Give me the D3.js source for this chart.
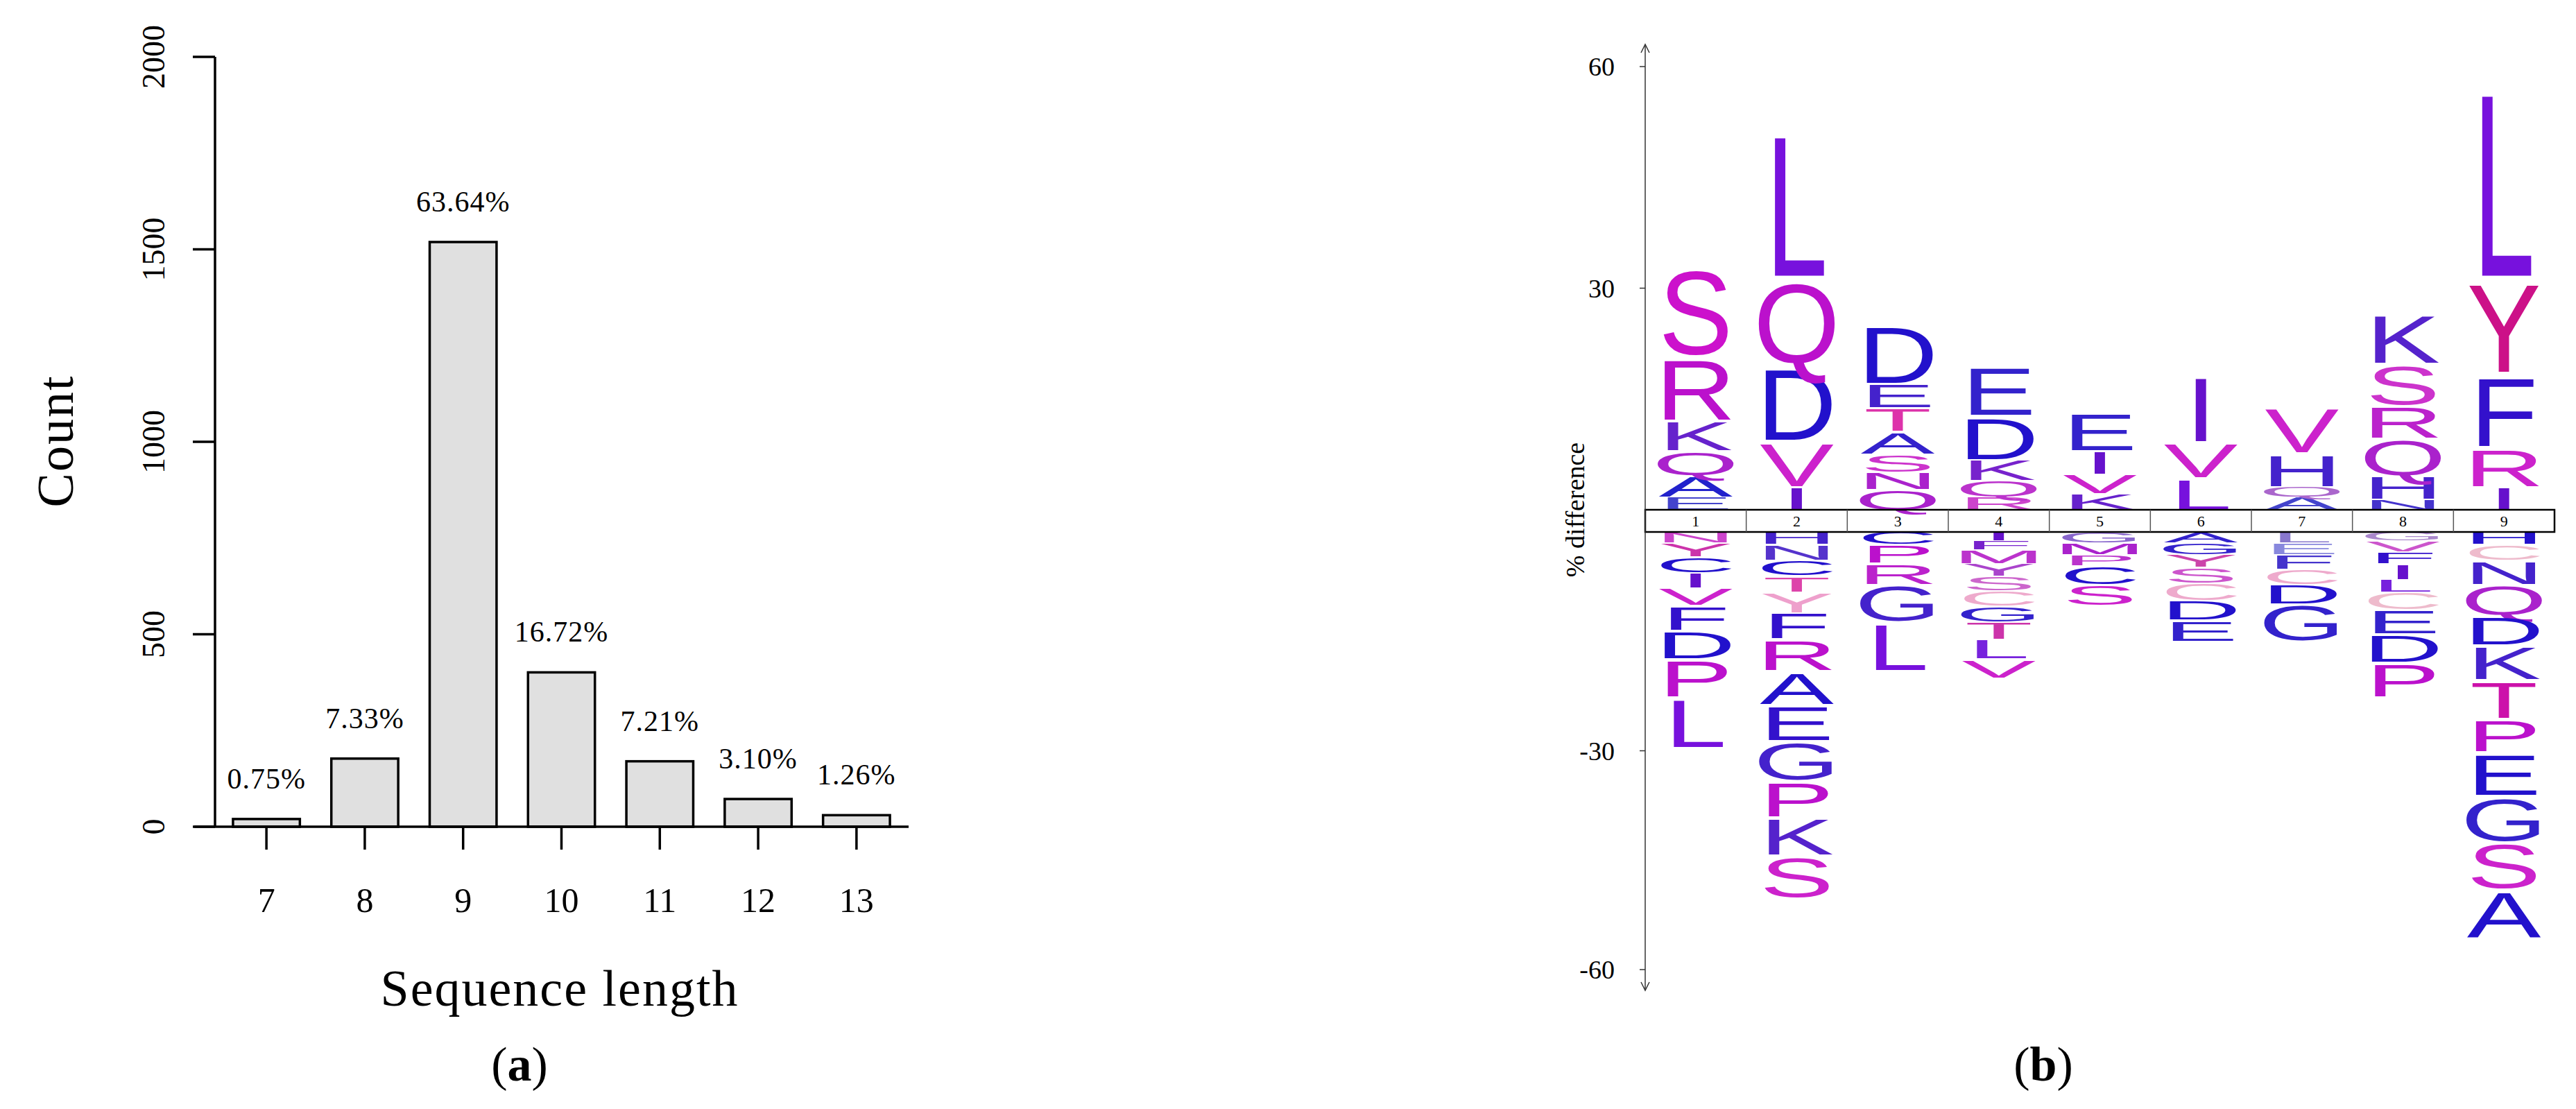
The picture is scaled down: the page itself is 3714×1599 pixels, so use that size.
<!DOCTYPE html>
<html><head><meta charset="utf-8">
<script src="https://cdn.jsdelivr.net/npm/d3@7"></script>
<style>body{margin:0;background:#fff}svg{display:block}</style>
</head><body>
<script>
// ---- Panel (a) data
const lengths = ["7","8","9","10","11","12","13"];
const counts = [20,177,1519,401,170,72,30];
const pctLabels = ["0.75%","7.33%","63.64%","16.72%","7.21%","3.10%","1.26%"];
const countTicks = [0,500,1000,1500,2000];

// ---- Panel (b) data: letters (top to bottom above 0, top to bottom below 0) and % heights
const positions = ["1","2","3","4","5","6","7","8","9"];
const posLetters = [
 ["S","R","K","Q","A","E"],["L","Q","D","V","I"],["D","E","T","A","S","N","Q"],["E","D","K","Q","R"],
 ["E","I","V","K"],["I","V","L"],["V","H","Q","A"],["K","S","R","Q","H","N"],["L","Y","F","R","I"]];
const posHeights = [
 [12.3,8.9,4.1,3.4,2.9,1.8],[20.8,11.7,10.5,6.3,3.2],[8.3,3.3,3.2,3.1,2.4,2.4,2.8],[7.0,6.0,2.9,2.2,1.8],
 [5.3,3.2,2.6,2.3],[9.4,4.9,4.4],[6.5,4.6,1.4,1.8],[7.0,5.6,4.5,5.1,3.2,1.5],[27.1,13.0,10.1,5.4,3.2]];
const negLetters = [
 ["N","Y","C","I","V","F","D","P","L"],["H","N","C","T","Y","F","R","A","E","G","P","K","S"],
 ["C","P","R","G","L"],["I","F","M","Y","S","C","G","T","L","V"],["G","M","P","C","S"],
 ["A","G","Y","S","C","D","E"],["L","E","F","C","D","G"],["G","V","F","I","L","C","E","D","P"],
 ["H","C","N","Q","D","K","T","P","E","G","S","A"]];
const negHeights = [
 [1.45,1.95,2.2,2.1,2.4,3.4,3.9,5.3,7.0],[1.7,2.2,2.1,2.2,2.9,3.6,4.4,4.6,5.0,5.4,5.0,5.3,5.8],
 [1.7,2.6,2.9,5.1,6.8],[1.2,1.2,1.9,1.7,2.0,2.1,2.2,2.4,2.7,2.6],[1.45,1.65,1.5,2.6,2.9],
 [1.45,1.65,1.7,2.2,2.4,2.7,2.9],[1.45,1.65,2.0,2.1,2.7,5.1],[1.2,1.5,1.6,2.2,1.7,2.4,3.4,3.9,4.8],
 [1.7,2.2,3.3,4.2,4.1,4.8,5.3,4.6,6.0,6.3,6.5,6.8]];
const diffTicks = [60,30,-30,-60];

// ---- colours (styles kept separate)
const posColors = [
 ["#cc11cc","#bb11cc","#6622cc","#aa22cc","#2222cc","#4444cc"],["#7711dd","#bb11cc","#2211cc","#cc22cc","#6611cc"],
 ["#2211cc","#4422cc","#dd33aa","#3322cc","#cc33cc","#aa22cc","#aa22cc"],["#3322cc","#2211cc","#7722cc","#bb33cc","#cc44cc"],
 ["#3322cc","#6611cc","#cc22cc","#6622cc"],["#6611cc","#cc22cc","#7711dd"],["#cc22cc","#4422cc","#aa66cc","#4444cc"],
 ["#5522cc","#cc33cc","#bb22cc","#aa22cc","#4422cc","#4433cc"],["#7711dd","#cc1188","#3311cc","#cc22cc","#6611cc"]];
const negColors = [
 ["#cc44cc","#cc33aa","#2211cc","#6611cc","#cc22cc","#3311cc","#2211cc","#bb11cc","#7711dd"],
 ["#4422cc","#5533cc","#2211cc","#dd44aa","#eea0cc","#3311cc","#bb11cc","#2211cc","#3311cc","#4422cc","#bb11cc","#5522cc","#cc22cc"],
 ["#2211cc","#bb11cc","#bb22cc","#4422cc","#7711dd"],
 ["#6611cc","#7722cc","#bb33cc","#aa44cc","#cc66cc","#eeaacc","#3322cc","#cc33aa","#7722dd","#cc22cc"],
 ["#8866cc","#aa22cc","#bb33cc","#2211cc","#cc22cc"],
 ["#3322cc","#3322cc","#cc44aa","#cc55cc","#eeaacc","#2211cc","#3322cc"],
 ["#8877cc","#8888dd","#4433cc","#eeaacc","#2211cc","#3322cc"],
 ["#aa88cc","#cc55cc","#3311cc","#6611cc","#7722dd","#eebbcc","#3322cc","#2211cc","#bb11cc"],
 ["#2211cc","#eebbcc","#4422cc","#aa22cc","#2211cc","#4422cc","#cc11aa","#bb11cc","#2211cc","#3322cc","#cc22cc","#2211cc"]];

const W=3714,H=1599;
const svg=d3.select("body").append("svg").attr("width",W).attr("height",H);
const serif="'Liberation Serif','DejaVu Serif',serif";

// ================= Panel (a)
const xA=d3.scaleBand().domain(lengths).range([326,1293]).paddingInner(0.32).paddingOuter(0.07);
const yA=d3.scaleLinear().domain([0,2000]).range([1192,82]);
const gA=svg.append("g");
gA.selectAll("rect").data(counts).join("rect")
 .attr("x",(d,i)=>xA(lengths[i])).attr("width",xA.bandwidth())
 .attr("y",d=>yA(d)).attr("height",d=>yA(0)-yA(d))
 .attr("fill","#e0e0e0").attr("stroke","#000").attr("stroke-width",3.5);
gA.selectAll("text.pct").data(counts).join("text").attr("class","pct")
 .attr("x",(d,i)=>xA(lengths[i])+xA.bandwidth()/2).attr("y",d=>yA(d)-44)
 .attr("text-anchor","middle").attr("font-family",serif).attr("font-size",42).attr("letter-spacing",1)
 .text((d,i)=>pctLabels[i]);
gA.append("line").attr("x1",280).attr("x2",1310).attr("y1",yA(0)).attr("y2",yA(0)).attr("stroke","#000").attr("stroke-width",3.5);
gA.selectAll("line.xt").data(lengths).join("line").attr("class","xt")
 .attr("x1",d=>xA(d)+xA.bandwidth()/2).attr("x2",d=>xA(d)+xA.bandwidth()/2)
 .attr("y1",yA(0)).attr("y2",1225).attr("stroke","#000").attr("stroke-width",3.5);
gA.selectAll("text.xl").data(lengths).join("text").attr("class","xl")
 .attr("x",d=>xA(d)+xA.bandwidth()/2).attr("y",1315).attr("text-anchor","middle")
 .attr("font-family",serif).attr("font-size",50).text(d=>d);
gA.append("line").attr("x1",310).attr("x2",310).attr("y1",yA(0)).attr("y2",yA(2000)).attr("stroke","#000").attr("stroke-width",3.5);
gA.selectAll("line.yt").data(countTicks).join("line").attr("class","yt")
 .attr("x1",278).attr("x2",310).attr("y1",d=>yA(d)).attr("y2",d=>yA(d)).attr("stroke","#000").attr("stroke-width",3.5);
gA.selectAll("text.yl").data(countTicks).join("text").attr("class","yl")
 .attr("transform",d=>`translate(237,${yA(d)}) rotate(-90)`).attr("text-anchor","middle")
 .attr("font-family",serif).attr("font-size",46).text(d=>d);
gA.append("text").attr("transform","translate(105,636) rotate(-90)").attr("text-anchor","middle")
 .attr("font-family",serif).attr("font-size",74).attr("letter-spacing",2).text("Count");
gA.append("text").attr("x",807).attr("y",1450).attr("text-anchor","middle")
 .attr("font-family",serif).attr("font-size",74).attr("letter-spacing",2).text("Sequence length");
const ta=gA.append("text").attr("x",749).attr("y",1558).attr("text-anchor","middle").attr("font-family",serif).attr("font-size",70);
ta.append("tspan").text("(");ta.append("tspan").attr("font-weight","bold").text("a");ta.append("tspan").text(")");

// ================= Panel (b)
const xB=d3.scaleBand().domain(positions).range([2372,3683]);
const yPos=d3.scaleLinear().domain([0,60]).range([735,96]);
const yNeg=d3.scaleLinear().domain([0,-60]).range([767,1398]);
const gB=svg.append("g");
const sans="'Liberation Sans',Arial,sans-serif";
const FS=160, CAP=0.716*FS;
function letter(ch,col,bottom,hPx,color){
  const cx=xB(col)+xB.bandwidth()/2;
  const gh=hPx*0.93;
  gB.append("text").attr("transform",`translate(${cx},${bottom}) scale(1,${gh/CAP})`)
   .attr("text-anchor","middle").attr("font-family",sans).attr("font-size",FS)
   .attr("fill",color).text(ch);
}
positions.forEach((p,i)=>{
  let acc=0;
  for(let k=posLetters[i].length-1;k>=0;k--){
    const h=posHeights[i][k];
    letter(posLetters[i][k],p,yPos(acc),yPos(acc)-yPos(acc+h),posColors[i][k]);
    acc+=h;
  }
  acc=0;
  negLetters[i].forEach((ch,k)=>{
    const h=negHeights[i][k];
    const top=yNeg(-acc), bot=yNeg(-(acc+h));
    letter(ch,p,bot-(bot-top)*0.03,bot-top,negColors[i][k]);
    acc+=h;
  });
});
gB.append("rect").attr("x",2372).attr("y",735).attr("width",3683-2372).attr("height",32)
 .attr("fill","none").attr("stroke","#000").attr("stroke-width",2.5);
gB.selectAll("line.div").data(positions.slice(1)).join("line").attr("class","div")
 .attr("x1",d=>xB(d)).attr("x2",d=>xB(d)).attr("y1",735).attr("y2",767).attr("stroke","#555").attr("stroke-width",1.5);
gB.selectAll("text.pn").data(positions).join("text").attr("class","pn")
 .attr("x",d=>xB(d)+xB.bandwidth()/2).attr("y",759).attr("text-anchor","middle")
 .attr("font-family",serif).attr("font-size",22).text(d=>d);
gB.append("line").attr("x1",2372).attr("x2",2372).attr("y1",64).attr("y2",1428).attr("stroke","#333").attr("stroke-width",1.5);
gB.append("path").attr("d","M2366,76 L2372,64 L2378,76").attr("fill","none").attr("stroke","#333").attr("stroke-width",1.5);
gB.append("path").attr("d","M2366,1416 L2372,1428 L2378,1416").attr("fill","none").attr("stroke","#333").attr("stroke-width",1.5);
const ty=d=>d>0?yPos(d):yNeg(d);
gB.selectAll("line.dt").data(diffTicks).join("line").attr("class","dt")
 .attr("x1",2364).attr("x2",2372).attr("y1",ty).attr("y2",ty).attr("stroke","#333").attr("stroke-width",1.5);
gB.selectAll("text.dl").data(diffTicks).join("text").attr("class","dl")
 .attr("x",2328).attr("y",d=>ty(d)+13).attr("text-anchor","end")
 .attr("font-family",serif).attr("font-size",38).text(d=>d);
gB.append("text").attr("transform","translate(2284,735) rotate(-90)").attr("text-anchor","middle")
 .attr("font-family",serif).attr("font-size",38).text("% difference");
const tb=gB.append("text").attr("x",2946).attr("y",1558).attr("text-anchor","middle").attr("font-family",serif).attr("font-size",70);
tb.append("tspan").text("(");tb.append("tspan").attr("font-weight","bold").text("b");tb.append("tspan").text(")");
</script>
</body></html>
